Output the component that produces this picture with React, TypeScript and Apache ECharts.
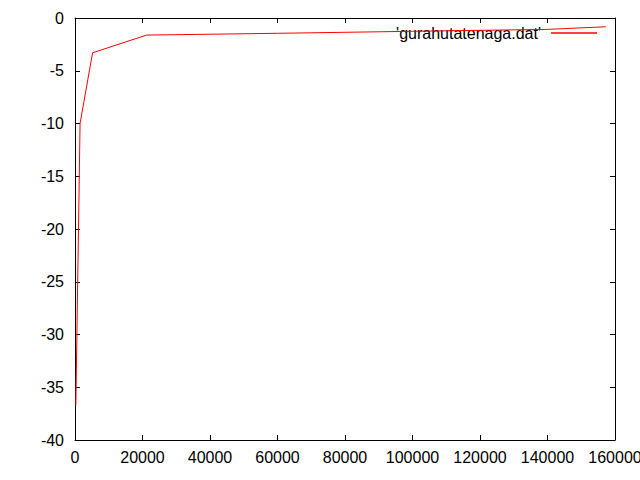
import React, { useEffect, useRef } from "react";
import * as echarts from "echarts";

const seriesName = "'gurahutatenaga.dat'";
const xValues = [250, 1500, 5200, 21200, 60000, 100000, 139800, 157300];
const yValues = [-36.7, -10.0, -3.3, -1.62, -1.45, -1.26, -1.08, -0.83];
const xTicks = { min: 0, max: 160000, interval: 20000 };
const yTicks = { min: -40, max: 0, interval: 5 };

const FONT = "Liberation Sans";

export default function App() {
  const ref = useRef<HTMLDivElement>(null);
  useEffect(() => {
    if (!ref.current) return;
    const chart = echarts.init(ref.current, undefined, { renderer: "svg" });
    const data = xValues.map((x, i) => [x, yValues[i]]);
    const axisLine = { show: true, onZero: false, lineStyle: { color: "#000", width: 1 } };
    const tick = { show: true, inside: true, length: 5, lineStyle: { color: "#000", width: 1 } };
    chart.setOption({
      animation: false,
      backgroundColor: "#fff",
      grid: {
        left: 75,
        right: 25,
        top: 18,
        bottom: 40,
        containLabel: false,
        outerBoundsMode: "none",
      },
      legend: {
        data: [seriesName],
        right: 38,
        top: 20,
        align: "right",
        icon: "rect",
        itemWidth: 46,
        itemHeight: 1.5,
        z: 1,
        itemStyle: { color: "#ff0000" },
        textStyle: { fontSize: 16, fontFamily: FONT, color: "#000", padding: [0, 5, 0, 0] },
      },
      xAxis: [
        {
          type: "value",
          position: "bottom",
          ...xTicks,
          axisLine,
          axisTick: tick,
          splitLine: { show: false },
          axisLabel: {
            show: true,
            margin: 9,
            fontSize: 16,
            fontFamily: FONT,
            color: "#000",
            hideOverlap: false,
            formatter: (v: number) => String(v),
          },
        },
        {
          type: "value",
          position: "top",
          ...xTicks,
          axisLine,
          axisTick: tick,
          splitLine: { show: false },
          axisLabel: { show: false },
        },
      ],
      yAxis: [
        {
          type: "value",
          position: "left",
          ...yTicks,
          axisLine,
          axisTick: tick,
          splitLine: { show: false },
          axisLabel: {
            show: true,
            margin: 11,
            fontSize: 16,
            fontFamily: FONT,
            color: "#000",
            formatter: (v: number) => String(v),
          },
        },
        {
          type: "value",
          position: "right",
          ...yTicks,
          axisLine,
          axisTick: tick,
          splitLine: { show: false },
          axisLabel: { show: false },
        },
      ],
      series: [
        {
          name: seriesName,
          type: "line",
          data,
          z: 3,
          showSymbol: false,
          symbol: "none",
          lineStyle: { color: "#ff0000", width: 1 },
          itemStyle: { color: "#ff0000" },
        },
      ],
    });
    return () => chart.dispose();
  }, []);
  return (
    <div
      ref={ref}
      style={{ position: "fixed", left: 0, top: 0, width: 640, height: 480 }}
    />
  );
}
